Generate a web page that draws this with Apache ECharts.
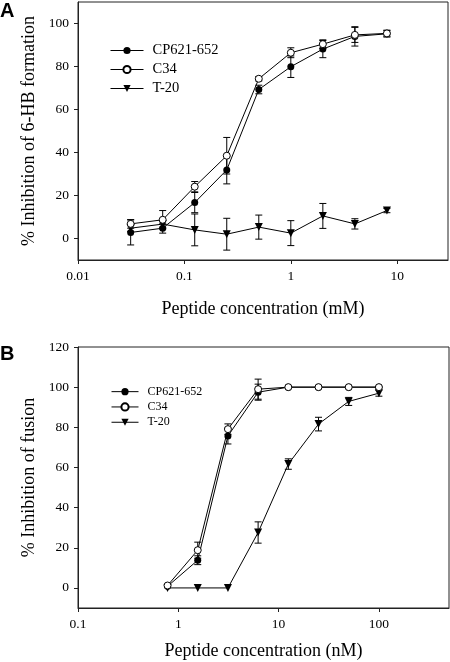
<!DOCTYPE html>
<html>
<head>
<meta charset="utf-8">
<script src="https://cdn.jsdelivr.net/npm/echarts@6/dist/echarts.min.js"></script>
<style>
html,body{margin:0;padding:0;background:#fff;}
#chart{width:450px;height:662px;}
</style>
</head>
<body>
<div id="chart"></div>
<script>
// ---- Panel A data (6-HB formation, mM) ----
var concA = [0.03125, 0.0625, 0.125, 0.25, 0.5, 1, 2, 4, 8];
var cpA = [2.8, 4.8, 16.7, 31.9, 69.3, 79.9, 88.1, 94.0, 95.2];
var cpAErr = [5.8, 2.3, 4.7, 6.5, 2.0, 5.0, 4.0, 4.5, 1.5];
var c34A = [6.8, 8.7, 24.1, 38.5, 74.3, 86.4, 90.4, 94.7, 95.4];
var c34AErr = [2.0, 4.3, 2.4, 8.5, 1.0, 2.3, 2.0, 3.5, 1.5];
var t20A = [4.8, 6.7, 4.0, 2.0, 5.3, 2.5, 10.5, 6.8, 13.0];
var t20AErr = [1.5, 1.5, 7.4, 7.4, 5.6, 5.8, 5.8, 2.4, 1.0];

// ---- Panel B data (fusion, nM) ----
var concB = [0.78125, 1.5625, 3.125, 6.25, 12.5, 25, 50, 100];
var cpB = [0.8, 13.8, 75.7, 97.5, 100, 100, 100, 100];
var cpBErr = [0.5, 2.2, 4.0, 4.0, 0, 0, 0, 0];
var c34B = [1.2, 18.8, 79.1, 99.0, 100, 100, 100, 100];
var c34BErr = [0.5, 4.0, 2.6, 5.0, 0, 0, 0, 0];
var t20B = [0, 0, 0, 27.6, 61.7, 81.6, 92.9, 97.0];
var t20BErr = [0, 0, 0, 5.3, 2.6, 3.4, 2.0, 1.5];

// ---- tick labels ----
var xTicksA = [0.01, 0.1, 1, 10];
var xTicksB = [0.1, 1, 10, 100];
var yTicksA = [0, 20, 40, 60, 80, 100];
var yTicksB = [0, 20, 40, 60, 80, 100, 120];

var seriesNames = ['CP621-652', 'C34', 'T-20'];

function zip(xs, ys) { return xs.map(function (x, i) { return [x, ys[i]]; }); }
function errData(xs, ys, es) {
  var out = [];
  xs.forEach(function (x, i) { if (es[i] > 0) out.push([x, ys[i] - es[i], ys[i] + es[i]]); });
  return out;
}
var triDown = 'path://M0,0 L10,0 L5,9 Z';
var serif = 'Liberation Serif';

function lineSeries(name, data, idx, style) {
  return {
    name: name, type: 'line', xAxisIndex: idx, yAxisIndex: idx, data: data,
    symbol: style.symbol, symbolSize: style.size, showSymbol: true,
    lineStyle: { color: '#000', width: 1 },
    itemStyle: style.item, z: 3, emphasis: { disabled: true }
  };
}
function errSeries(data, idx) {
  return {
    type: 'custom', xAxisIndex: idx, yAxisIndex: idx, data: data, z: 2, silent: true,
    encode: { x: 0, y: [1, 2] },
    renderItem: function (params, api) {
      var x = api.value(0), lo = api.value(1), hi = api.value(2);
      var a = api.coord([x, lo]), b = api.coord([x, hi]);
      var w = 3.5, st = { stroke: '#000', lineWidth: 1 };
      return { type: 'group', children: [
        { type: 'line', shape: { x1: a[0], y1: a[1], x2: b[0], y2: b[1] }, style: st },
        { type: 'line', shape: { x1: a[0] - w, y1: a[1], x2: a[0] + w, y2: a[1] }, style: st },
        { type: 'line', shape: { x1: b[0] - w, y1: b[1], x2: b[0] + w, y2: b[1] }, style: st }
      ]};
    }
  };
}
var stCP = { symbol: 'circle', size: 7, item: { color: '#000' } };
var stC34 = { symbol: 'circle', size: 7, item: { color: '#fff', borderColor: '#000', borderWidth: 1 } };
var stT20 = { symbol: triDown, size: 8, item: { color: '#000' } };

function xAxis(idx, min, max, ticks, name, gap) {
  return {
    type: 'log', gridIndex: idx, min: min, max: max, logBase: 10,
    name: name, nameLocation: 'middle', nameGap: gap,
    nameTextStyle: { fontFamily: serif, fontSize: 18, color: '#000' },
    axisLine: { show: true, onZero: false, lineStyle: { color: '#222', width: 1 } },
    axisTick: { show: true, inside: false, length: 4, customValues: ticks, lineStyle: { color: '#222' } },
    axisLabel: { customValues: ticks, margin: 9, fontFamily: serif, fontSize: 13.5, color: '#000',
      formatter: function (v) { return String(+v.toPrecision(6)); } },
    splitLine: { show: false }, minorTick: { show: false }
  };
}
function yAxis(idx, min, max, ticks, name, gap) {
  return {
    type: 'value', gridIndex: idx, min: min, max: max,
    name: name, nameLocation: 'middle', nameGap: gap, nameRotate: 90,
    nameTextStyle: { fontFamily: serif, fontSize: 18, color: '#000' },
    axisLine: { show: true, onZero: false, lineStyle: { color: '#222', width: 1 } },
    axisTick: { show: true, inside: false, length: 4, customValues: ticks, lineStyle: { color: '#222' } },
    axisLabel: { customValues: ticks, margin: 9, fontFamily: serif, fontSize: 13.5, color: '#000' },
    splitLine: { show: false }
  };
}

var chart = echarts.init(document.getElementById('chart'), null, { renderer: 'canvas' });
chart.setOption({
  animation: false,
  backgroundColor: '#fff',
  grid: [
    { left: 78, top: 2, width: 370, height: 258, show: true, borderColor: '#222', borderWidth: 1, backgroundColor: 'transparent' },
    { left: 78, top: 347, width: 371, height: 261, show: true, borderColor: '#222', borderWidth: 1, backgroundColor: 'transparent' }
  ],
  xAxis: [
    xAxis(0, 0.01, 30, xTicksA, 'Peptide concentration (mM)', 40),
    xAxis(1, 0.1, 500, xTicksB, 'Peptide concentration (nM)', 34)
  ],
  yAxis: [
    yAxis(0, -10, 110, yTicksA, '% Inhibition of 6-HB formation', 40),
    yAxis(1, -10, 120, yTicksB, '% Inhibition of fusion', 38)
  ],
  legend: [
    { data: seriesNames, orient: 'vertical', left: 105, top: 36, itemWidth: 33, itemHeight: 9, itemGap: 0,
      selectedMode: false, lineStyle: { width: 1, color: '#000' },
      textStyle: { fontFamily: serif, fontSize: 14.5, color: '#000', lineHeight: 19, padding: [0, 0, 0, 4] } },
    { data: seriesNames, orient: 'vertical', left: 106, top: 379, itemWidth: 27, itemHeight: 9, itemGap: 0,
      selectedMode: false, lineStyle: { width: 1, color: '#000' },
      textStyle: { fontFamily: serif, fontSize: 12, color: '#000', lineHeight: 15.3, padding: [0, 0, 0, 4] } }
  ],
  graphic: [
    { type: 'text', left: 0, top: 1, style: { text: 'A', font: 'bold 20px "Liberation Sans"', fill: '#000' } },
    { type: 'text', left: 0, top: 344, style: { text: 'B', font: 'bold 20px "Liberation Sans"', fill: '#000' } }
  ],
  series: [
    errSeries(errData(concA, cpA, cpAErr), 0),
    errSeries(errData(concA, c34A, c34AErr), 0),
    errSeries(errData(concA, t20A, t20AErr), 0),
    lineSeries('T-20', zip(concA, t20A), 0, stT20),
    lineSeries('CP621-652', zip(concA, cpA), 0, stCP),
    lineSeries('C34', zip(concA, c34A), 0, stC34),
    errSeries(errData(concB, cpB, cpBErr), 1),
    errSeries(errData(concB, c34B, c34BErr), 1),
    errSeries(errData(concB, t20B, t20BErr), 1),
    lineSeries('T-20', zip(concB, t20B), 1, stT20),
    lineSeries('CP621-652', zip(concB, cpB), 1, stCP),
    lineSeries('C34', zip(concB, c34B), 1, stC34)
  ]
});
</script>
</body>
</html>
